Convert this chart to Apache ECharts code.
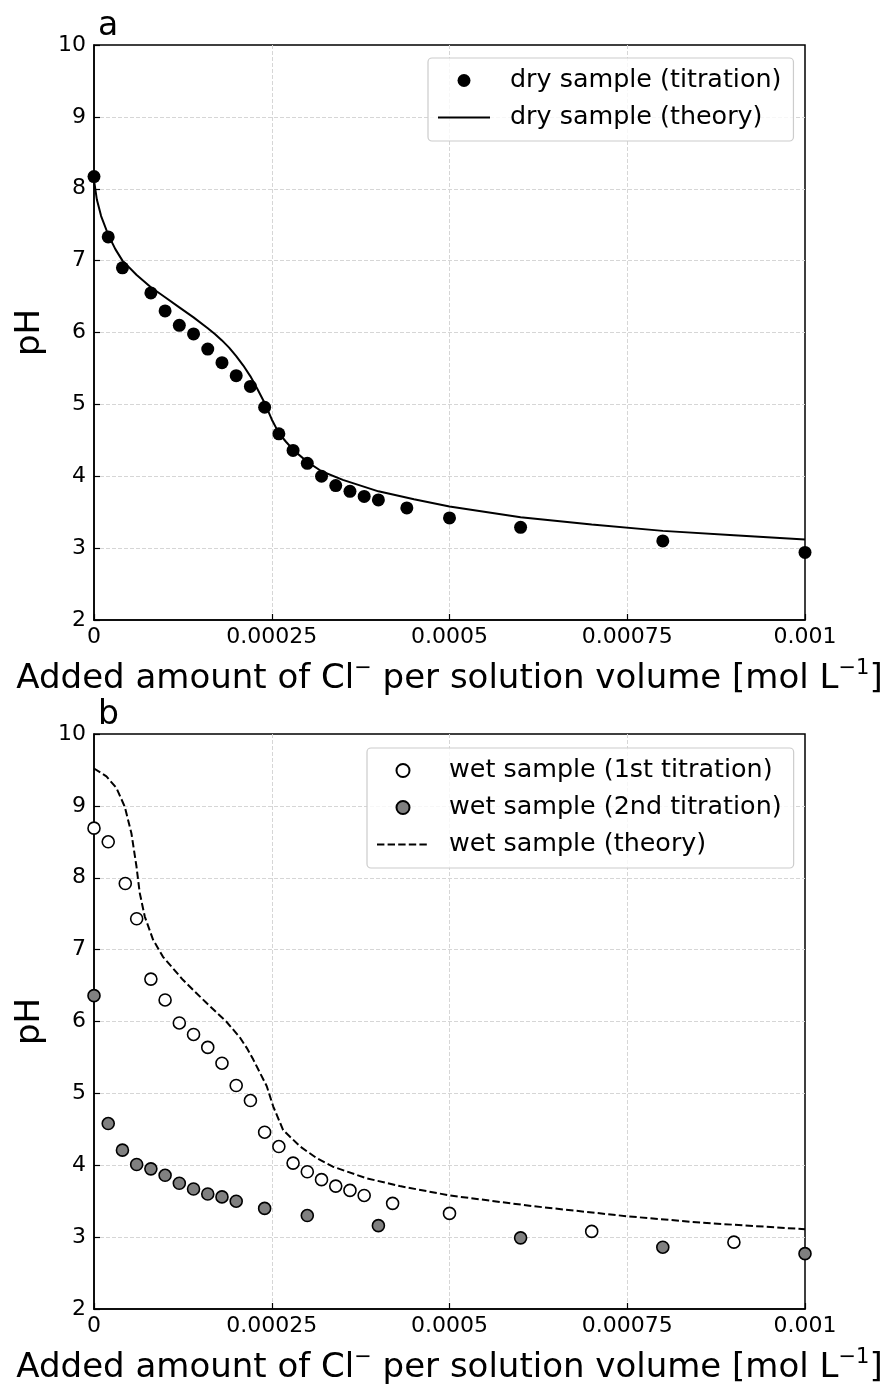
<!DOCTYPE html>
<html><head><meta charset="utf-8">
<script src="https://cdn.jsdelivr.net/npm/echarts@6/dist/echarts.min.js"></script>
<style>html,body{margin:0;padding:0;background:#fff}#c{width:888px;height:1386px}</style>
</head><body><div id="c"></div>
<script>
// ---------- tick labels ----------
const xTickLabels = ['0', '0.00025', '0.0005', '0.00075', '0.001'];
const xTickStep = 0.00025;

// ---------- panel a : dry sample ----------
const dryTitrationX  = [0, 0.00002, 0.00004, 0.00008, 0.0001, 0.00012, 0.00014, 0.00016, 0.00018, 0.0002, 0.00022, 0.00024, 0.00026, 0.00028, 0.0003, 0.00032, 0.00034, 0.00036, 0.00038, 0.0004, 0.00044, 0.0005, 0.0006, 0.0008, 0.001];
const dryTitrationPH = [8.17, 7.33, 6.90, 6.55, 6.30, 6.10, 5.98, 5.77, 5.58, 5.40, 5.25, 4.96, 4.59, 4.36, 4.18, 4.00, 3.87, 3.79, 3.72, 3.67, 3.56, 3.42, 3.29, 3.10, 2.94];

const dryTheoryX  = [0, 0.000004, 0.00001, 0.00002, 0.00003, 0.00004, 0.00006, 0.00008, 0.0001, 0.00012, 0.00014, 0.00016, 0.00017, 0.00018, 0.00019, 0.0002, 0.00021, 0.00022, 0.00023, 0.00024, 0.00025, 0.00026, 0.00027, 0.00028, 0.0003, 0.00032, 0.00035, 0.0004, 0.00045, 0.0005, 0.0006, 0.0007, 0.0008, 0.0009, 0.001];
const dryTheoryPH = [8.12, 7.85, 7.62, 7.36, 7.16, 7.00, 6.80, 6.63, 6.49, 6.35, 6.21, 6.06, 5.98, 5.89, 5.79, 5.67, 5.54, 5.39, 5.21, 5.02, 4.79, 4.60, 4.48, 4.37, 4.20, 4.07, 3.95, 3.79, 3.68, 3.58, 3.43, 3.33, 3.24, 3.18, 3.12];

// ---------- panel b : wet sample ----------
const wet1X  = [0, 0.00002, 0.000044, 0.00006, 0.00008, 0.0001, 0.00012, 0.00014, 0.00016, 0.00018, 0.0002, 0.00022, 0.00024, 0.00026, 0.00028, 0.0003, 0.00032, 0.00034, 0.00036, 0.00038, 0.00042, 0.0005, 0.0007, 0.0009];
const wet1PH = [8.69, 8.50, 7.92, 7.43, 6.59, 6.30, 5.98, 5.82, 5.64, 5.42, 5.11, 4.90, 4.46, 4.26, 4.03, 3.91, 3.80, 3.71, 3.65, 3.58, 3.47, 3.33, 3.08, 2.93];

const wet2X  = [0, 0.00002, 0.00004, 0.00006, 0.00008, 0.0001, 0.00012, 0.00014, 0.00016, 0.00018, 0.0002, 0.00024, 0.0003, 0.0004, 0.0006, 0.0008, 0.001];
const wet2PH = [6.36, 4.58, 4.21, 4.01, 3.95, 3.86, 3.75, 3.67, 3.60, 3.56, 3.50, 3.40, 3.30, 3.16, 2.99, 2.86, 2.77];

const wetTheoryX  = [0, 0.0000175, 0.0000315, 0.0000432, 0.0000526, 0.0000597, 0.0000643, 0.0000714, 0.000083, 0.000097, 0.000125, 0.000158, 0.000186, 0.000205, 0.000215, 0.000224, 0.000243, 0.000252, 0.000266, 0.00029, 0.000313, 0.000336, 0.000383, 0.00043, 0.0005, 0.000618, 0.00075, 0.000855, 0.001];
const wetTheoryPH = [9.52, 9.41, 9.25, 8.99, 8.62, 8.16, 7.79, 7.46, 7.14, 6.90, 6.58, 6.26, 6.00, 5.78, 5.63, 5.47, 5.10, 4.82, 4.49, 4.26, 4.10, 3.98, 3.82, 3.71, 3.58, 3.43, 3.29, 3.20, 3.11];

const zip = (xs, ys) => xs.map((x, i) => [x, ys[i]]);

const FONT = 'DejaVu Sans';
const xAxisName = 'Added amount of Cl{sup|−} per solution volume [mol L{sup|−1}]';

function makeX(gi) {
  return {
    type: 'value', gridIndex: gi, min: 0, max: 0.001, interval: xTickStep,
    name: xAxisName, nameLocation: 'middle', nameGap: 38,
    nameTextStyle: { fontFamily: FONT, fontSize: 34, lineHeight: 42, color: '#000',
      rich: { sup: { fontFamily: FONT, fontSize: 21, lineHeight: 21, color: '#000', verticalAlign: 'top' } } },
    axisLine: { show: true, onZero: false, lineStyle: { color: '#000', width: 1.5 } },
    axisTick: { show: true, inside: true, length: 6, lineStyle: { color: '#000', width: 1.2 } },
    axisLabel: { fontFamily: FONT, fontSize: 22, color: '#000', margin: 6,
      formatter: v => xTickLabels[Math.round(v / xTickStep)] },
    splitLine: { show: true, showMinLine: false, showMaxLine: false,
      lineStyle: { color: '#d6d6d6', width: 1, type: [4, 2] } }
  };
}
function makeY(gi) {
  return {
    type: 'value', gridIndex: gi, min: 2, max: 10, interval: 1,
    name: 'pH', nameLocation: 'middle', nameGap: 46,
    nameTextStyle: { fontFamily: FONT, fontSize: 34, color: '#000' },
    axisLine: { show: true, onZero: false, lineStyle: { color: '#000', width: 1.5 } },
    axisTick: { show: true, inside: true, length: 6, lineStyle: { color: '#000', width: 1.2 } },
    axisLabel: { fontFamily: FONT, fontSize: 22, color: '#000', margin: 8 },
    splitLine: { show: true, showMinLine: false, showMaxLine: false,
      lineStyle: { color: '#d6d6d6', width: 1, type: [4, 2] } }
  };
}
const legendBase = {
  orient: 'vertical', itemWidth: 52, itemHeight: 13, itemGap: 12,
  backgroundColor: 'rgba(255,255,255,0.8)', borderColor: '#cccccc', borderWidth: 1.2, borderRadius: 4,
  padding: [10, 12, 11, 9],
  textStyle: { fontFamily: FONT, fontSize: 25.4, color: '#000', lineHeight: 25, padding: [0, 0, 0, 15] }
};
const hiddenSymbol = { opacity: 0 };
const gridBase = { left: 94, width: 711, height: 575, show: true, borderColor: '#000', borderWidth: 1.5,
  backgroundColor: 'transparent', containLabel: false, outerBoundsMode: 'none' };

const chart = echarts.init(document.getElementById('c'), null, { renderer: 'canvas' });
chart.setOption({
  backgroundColor: '#fff',
  animation: false,
  title: [
    { text: 'a', left: 93, top: 5, textStyle: { fontFamily: FONT, fontSize: 33, fontWeight: 'normal', color: '#000' } },
    { text: 'b', left: 93, top: 694, textStyle: { fontFamily: FONT, fontSize: 33, fontWeight: 'normal', color: '#000' } }
  ],
  grid: [
    Object.assign({}, gridBase, { top: 45 }),
    Object.assign({}, gridBase, { top: 734 })
  ],
  xAxis: [makeX(0), makeX(1)],
  yAxis: [makeY(0), makeY(1)],
  legend: [
    Object.assign({}, legendBase, { left: 428, top: 58,
      data: ['dry sample (titration)', { name: 'dry sample (theory)', itemStyle: hiddenSymbol }] }),
    Object.assign({}, legendBase, { left: 367, top: 748,
      data: ['wet sample (1st titration)', 'wet sample (2nd titration)', { name: 'wet sample (theory)', itemStyle: hiddenSymbol }] })
  ],
  series: [
    { name: 'dry sample (titration)', type: 'scatter', xAxisIndex: 0, yAxisIndex: 0,
      data: zip(dryTitrationX, dryTitrationPH), symbol: 'circle', symbolSize: 13,
      itemStyle: { color: '#000', opacity: 1 }, z: 3 },
    { name: 'dry sample (theory)', type: 'line', xAxisIndex: 0, yAxisIndex: 0,
      data: zip(dryTheoryX, dryTheoryPH), symbol: 'none', smooth: false,
      lineStyle: { color: '#000', width: 2 }, itemStyle: { color: 'rgba(0,0,0,0)' }, z: 2 },
    { name: 'wet sample (1st titration)', type: 'scatter', xAxisIndex: 1, yAxisIndex: 1,
      data: zip(wet1X, wet1PH), symbol: 'circle', symbolSize: 12,
      itemStyle: { color: '#fff', borderColor: '#000', borderWidth: 1.6, opacity: 1 }, z: 3 },
    { name: 'wet sample (2nd titration)', type: 'scatter', xAxisIndex: 1, yAxisIndex: 1,
      data: zip(wet2X, wet2PH), symbol: 'circle', symbolSize: 12,
      itemStyle: { color: '#808080', borderColor: '#000', borderWidth: 1.6, opacity: 1 }, z: 3 },
    { name: 'wet sample (theory)', type: 'line', xAxisIndex: 1, yAxisIndex: 1,
      data: zip(wetTheoryX, wetTheoryPH), symbol: 'none', smooth: false,
      lineStyle: { color: '#000', width: 2, type: [7.4, 3.2] }, itemStyle: { color: 'rgba(0,0,0,0)' }, z: 2 }
  ]
});
</script></body></html>
